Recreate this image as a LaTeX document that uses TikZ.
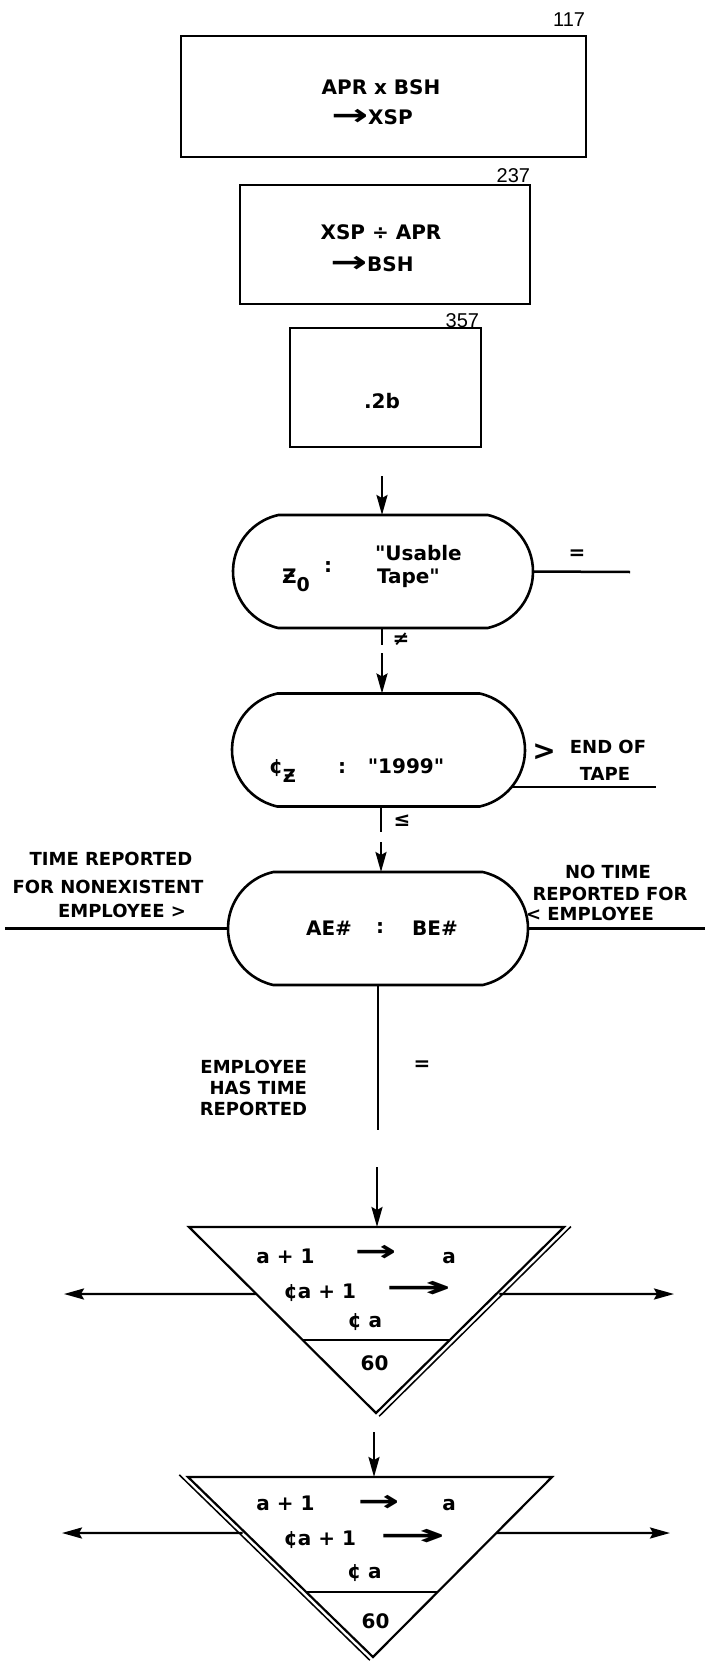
\documentclass[tikz,border=0pt]{standalone}
\usepackage{fontspec}
\usepackage{graphicx}
\setmainfont{DejaVu Sans}[Ligatures=TeXOff]
\newfontfamily\numfont{Liberation Sans}
\usetikzlibrary{arrows.meta,shapes.misc,calc}
\pgfdeclarelayer{bg}
\pgfsetlayers{bg,main}
\begin{document}
\begin{tikzpicture}[x=1pt,y=-1pt,
  every node/.style={inner sep=0pt, outer sep=0pt},
  txt/.style={font=\bfseries\fontsize{20}{24}\selectfont},
  lbl/.style={font=\bfseries\fontsize{18}{22}\selectfont},
  num/.style={font=\numfont\fontsize{20}{24}\selectfont},
  boxn/.style={draw, line width=2.6pt, rectangle},
  stad/.style={draw, fill=white, line width=2.6pt, rounded rectangle,
    rounded rectangle arc length=155, minimum height=113pt},
  ln/.style={line width=2.5pt},
  arr/.style={line width=2.4pt, -{Stealth[length=20pt,width=11pt,inset=3pt]}},
  tri/.style={line width=2.2pt, line join=miter},
  dbl/.style={line width=1.5pt}
]
\useasboundingbox (0,0) rectangle (705,1661);

% ---- boxes ----
\node[boxn, minimum width=405pt, minimum height=121pt] (b1) at (383.5,96.5) {};
\node[num, anchor=base east] (n117) at (585,27) {117};
\node[txt, anchor=base] (b1t1) at (381,95) {APR x BSH};
\node[txt, anchor=base] (b1t2) at (372,125) {\raisebox{-1pt}{\scalebox{2.2}[1.5]{→}}XSP};

\node[boxn, minimum width=290pt, minimum height=119pt] (b2) at (385,244.5) {};
\node[num, anchor=base east] (n237) at (530,183) {237};
\node[txt, anchor=base] (b2t1) at (381,240) {XSP ÷ APR};
\node[txt, anchor=base] (b2t2) at (372,272) {\raisebox{-1pt}{\scalebox{2.2}[1.5]{→}}BSH};

\node[boxn, minimum width=191pt, minimum height=119pt] (b3) at (385.5,387.5) {};
\node[num, anchor=base east] (n357) at (479,327) {357};
\node[txt, anchor=base] (b3t) at (382,408) {.2b};

% ---- stadium 1 ----
\node[stad, minimum width=300pt] (s1) at (383,571.5) {};
\node[txt, anchor=base west] (s1z) at (282,583) {Ƶ\raisebox{-8pt}{\fontsize{19}{19}\selectfont 0}};
\node[txt] (s1c) at (328,567) {:};
\node[txt, anchor=base west] (s1u) at (375,560) {"Usable};
\node[txt, anchor=base west] (s1p) at (377,583) {Tape"};
\node[txt] (s1eq) at (577,555) {=};

% ---- stadium 2 ----
\node[stad, minimum width=293pt] (s2) at (378.5,750) {};
\node[txt, anchor=base west] (s2c) at (269,773) {¢\raisebox{-9pt}{\fontsize{18}{18}\selectfont Ƶ}};
\node[txt] (s2col) at (342,768) {:};
\node[txt, anchor=base] (s2n) at (406,773) {"1999"};
\node[txt] (ne) at (401,639) {≠};
\node[font=\bfseries\fontsize{28}{28}\selectfont] (gt) at (544,752) {>};
\node[lbl, anchor=base] (eo) at (608,753) {END OF};
\node[lbl, anchor=base] (tp) at (605,780) {TAPE};
\node[txt] (le) at (402,821) {≤};

% ---- stadium 3 ----
\node[stad, minimum width=300pt] (s3) at (378,928.5) {};
\node[txt, anchor=base] (s3a) at (329,935) {AE\#};
\node[txt] (s3c) at (380,928) {:};
\node[txt, anchor=base] (s3b) at (435,935) {BE\#};

\node[lbl, anchor=base] (l1) at (111,865) {TIME REPORTED};
\node[lbl, anchor=base] (l2) at (108,893) {FOR NONEXISTENT};
\node[lbl, anchor=base] (l3) at (122,917) {EMPLOYEE >};
\node[lbl, anchor=base] (r1) at (608,878) {NO TIME};
\node[lbl, anchor=base] (r2) at (610,900) {REPORTED FOR};
\node[lbl, anchor=base] (r3) at (590,920) {< EMPLOYEE};

\node[txt] (eq3) at (422,1066) {=};
\node[lbl, anchor=base east] (e1) at (307,1073) {EMPLOYEE};
\node[lbl, anchor=base east] (e2) at (307,1094) {HAS TIME};
\node[lbl, anchor=base east] (e3) at (307,1115) {REPORTED};

% ---- connector coordinates ----
\coordinate (a1) at (382,476);
\coordinate (a2) at (382,645);
\coordinate (a3) at (382,653);
\coordinate (a4) at (381,832);
\coordinate (a5) at (381,842);
\coordinate (a6) at (378,1130);
\coordinate (a7) at (377,1167);
\coordinate (a8) at (374,1432);
\coordinate (c1) at (630,572);
\coordinate (c2) at (656,787);
\coordinate (c3l) at (5,928.5);
\coordinate (c3r) at (705,928.5);

\draw[arr] (a1) -- (a1 |- s1.north);
\draw[ln] (s1.south -| a2) -- (a2);
\draw[arr] (a3) -- (a3 |- s2.north);
\draw[ln] (s2.south -| a4) -- (a4);
\draw[arr] (a5) -- (a5 |- s3.north);
\draw[ln] (s3.south -| a6) -- (a6);
\draw[ln] (s1.east) -- (c1);
\begin{pgfonlayer}{bg}
\draw[ln] (s2.center |- c2) -- (c2);
\end{pgfonlayer}
\draw[ln] (c3l) -- (s3.west);
\draw[ln] (s3.east) -- (c3r);

% ---- triangle 1 ----
\coordinate (t1a) at (189,1227);
\coordinate (t1b) at (564,1227);
\coordinate (t1c) at (376,1413);
\draw[arr] (a7) -- (a7 |- t1a);
\draw[tri] (t1a) -- (t1b) -- (t1c) -- cycle;
\draw[tri] ($(t1a)!0.6075!(t1c)$) -- ($(t1b)!0.6075!(t1c)$);
\draw[dbl] ($(t1b)!-0.02!(t1c)+(3.2,3.2)$) -- ($(t1c)+(3.2,3.2)$);
\coordinate (t1le) at (64,1294);
\coordinate (t1re) at (674,1294);
\draw[arr] ($(t1a)!0.36!(t1c)$) -- (t1le);
\draw[arr] ($(t1b)!0.36!(t1c)+(3,0)$) -- (t1re);
\node[txt, anchor=base] (t1r1a) at (285.5,1263) {a + 1};
\node[txt] (t1r1b) at (375.5,1253) {\scalebox{2.5}[1.5]{→}};
\node[txt, anchor=base] (t1r1c) at (449,1263) {a};
\node[txt, anchor=base] (t1r2a) at (320,1298) {¢a + 1};
\node[txt] (t1r2b) at (418.5,1289) {\scalebox{4}[1.5]{→}};
\node[txt, anchor=base] (t1r3) at (365,1327) {¢ a};
\node[txt, anchor=base] (t1n) at (374.5,1370) {60};

% ---- triangle 2 ----
\coordinate (t2a) at (188,1477);
\coordinate (t2b) at (552,1477);
\coordinate (t2c) at (373,1657);
\draw[arr] (a8) -- (a8 |- t2a);
\draw[tri] (t2a) -- (t2b) -- (t2c) -- cycle;
\draw[tri] ($(t2a)!0.639!(t2c)$) -- ($(t2b)!0.639!(t2c)$);
\draw[dbl] ($(t2a)!-0.03!(t2c)+(-3.2,3.2)$) -- ($(t2c)+(-3.2,3.2)$);
\coordinate (t2le) at (62,1533);
\coordinate (t2re) at (670,1533);
\draw[arr] ($(t2a)!0.311!(t2c)+(-3,0)$) -- (t2le);
\draw[arr] ($(t2b)!0.311!(t2c)$) -- (t2re);
\node[txt, anchor=base] (t2r1a) at (285.5,1510) {a + 1};
\node[txt] (t2r1b) at (378.5,1503) {\scalebox{2.5}[1.5]{→}};
\node[txt, anchor=base] (t2r1c) at (449,1510) {a};
\node[txt, anchor=base] (t2r2a) at (320,1545) {¢a + 1};
\node[txt] (t2r2b) at (412.5,1537) {\scalebox{4}[1.5]{→}};
\node[txt, anchor=base] (t2r3) at (364.5,1578) {¢ a};
\node[txt, anchor=base] (t2n) at (375.5,1628) {60};
\end{tikzpicture}
\end{document}
